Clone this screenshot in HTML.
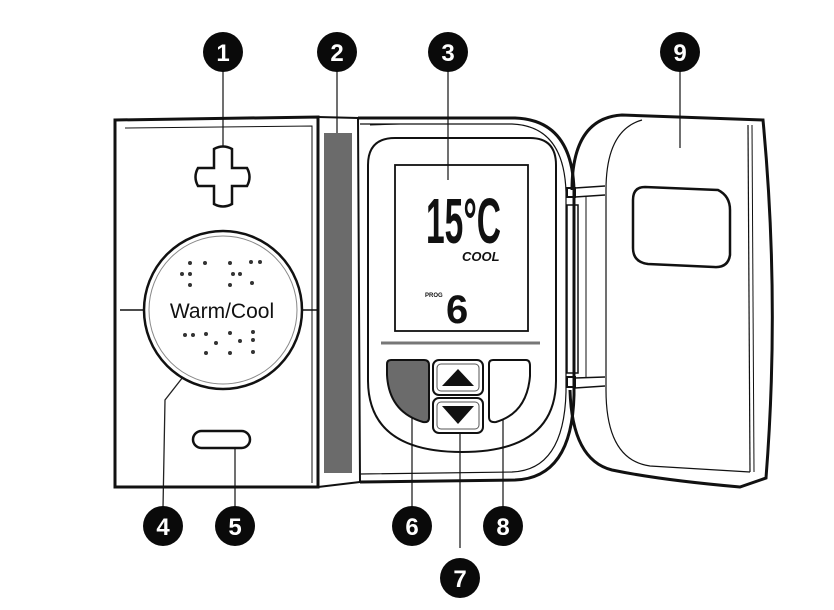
<!DOCTYPE html>
<html><head><meta charset="utf-8"><style>
html,body{margin:0;padding:0;background:#fff;}
svg{display:block;}
</style></head><body>
<svg width="834" height="610" viewBox="0 0 834 610" xmlns="http://www.w3.org/2000/svg" font-family="Liberation Sans, sans-serif">
<g stroke="#222" stroke-width="1.3" fill="none">
<line x1="223" y1="70" x2="223" y2="172"/>
<line x1="337" y1="70" x2="337" y2="150"/>
<line x1="448" y1="70" x2="448" y2="180"/>
<line x1="680" y1="70" x2="680" y2="148"/>
<polyline points="163,508 165,400 190,368"/>
<line x1="235" y1="508" x2="235" y2="440"/>
<line x1="412" y1="508" x2="412" y2="410"/>
<line x1="460" y1="548" x2="460" y2="432"/>
<line x1="503" y1="508" x2="503" y2="410"/>
</g>
<g fill="none" stroke="#111">
<path d="M115,120 L318,117 L318,487 L115,487 Z" stroke-width="3"/>
<path d="M125,128 L312,126 L312,483" stroke-width="1"/>
<path d="M318,117 L358,118 L360,482 L318,487" stroke-width="2"/>
<line x1="120" y1="310" x2="145" y2="310" stroke-width="1.5"/>
<line x1="302" y1="310" x2="318" y2="310" stroke-width="1.5"/>
</g>
<rect x="324" y="133" width="28" height="340" fill="#6b6b6b"/>
<path d="M214,149 Q223,144 232,149 L232,168 L247,168 Q252,177 247,186 L232,186 L232,204 Q223,209 214,204 L214,186 L198,186 Q193,177 198,168 L214,168 Z" fill="#fff" stroke="#111" stroke-width="2.5"/>
<circle cx="223" cy="310" r="79" fill="#fff" stroke="#111" stroke-width="2.5"/>
<circle cx="223" cy="310" r="74" fill="none" stroke="#888" stroke-width="1"/>
<text x="222" y="318" font-size="21" text-anchor="middle" fill="#111">Warm/Cool</text>
<g fill="#333">
<circle cx="190" cy="263" r="2"/><circle cx="205" cy="263" r="2"/><circle cx="230" cy="263" r="2"/><circle cx="251" cy="262" r="2"/><circle cx="260" cy="262" r="2"/>
<circle cx="182" cy="274" r="2"/><circle cx="190" cy="274" r="2"/><circle cx="233" cy="274" r="2"/><circle cx="240" cy="274" r="2"/>
<circle cx="190" cy="285" r="2"/><circle cx="230" cy="285" r="2"/><circle cx="252" cy="283" r="2"/>
<circle cx="185" cy="335" r="2"/><circle cx="193" cy="335" r="2"/><circle cx="206" cy="334" r="2"/><circle cx="230" cy="333" r="2"/><circle cx="253" cy="332" r="2"/>
<circle cx="216" cy="343" r="2"/><circle cx="240" cy="341" r="2"/><circle cx="253" cy="340" r="2"/>
<circle cx="206" cy="353" r="2"/><circle cx="230" cy="353" r="2"/><circle cx="253" cy="352" r="2"/>
</g>
<rect x="193" y="431" width="57" height="17" rx="8.5" fill="#fff" stroke="#111" stroke-width="2.5"/>
<g fill="none" stroke="#111">
<path d="M358,118 L515,118 Q572,120 574,190 L574,395 Q572,478 515,480 L360,482" stroke-width="3"/>
<path d="M360,124 L512,124 Q564,126 566,192 L566,392 Q564,470 512,472 L360,474" stroke-width="1.2"/>
<path d="M395,138 L530,138 Q556,138 556,165 L556,380 Q556,452 462,452 Q368,452 368,380 L368,165 Q368,138 395,138 Z" stroke-width="2"/>
<rect x="395" y="165" width="133" height="166" stroke-width="1.8"/>
<line x1="381" y1="343" x2="540" y2="343" stroke-width="3" stroke="#777"/>
<line x1="370" y1="125" x2="400" y2="124" stroke-width="1"/>
</g>
<text x="426" y="243" font-size="64" font-weight="bold" font-family="Liberation Sans Narrow, Liberation Sans, sans-serif" textLength="75" lengthAdjust="spacingAndGlyphs" fill="#111">15°C</text>
<text x="462" y="261" font-size="13" font-weight="bold" font-style="italic" fill="#111">COOL</text>
<text x="425" y="297" font-size="6" font-weight="bold" fill="#111">PROG</text>
<text x="446" y="323" font-size="40" font-weight="bold" font-family="Liberation Sans Narrow, Liberation Sans, sans-serif" fill="#111">6</text>
<path d="M391,360 L424,360 Q429,360 429,365 L429,418 Q429,423 423,422 Q389,412 387,375 L387,364 Q387,360 391,360 Z" fill="#6b6b6b" stroke="#111" stroke-width="2"/>
<rect x="433" y="360" width="50" height="35" rx="6" fill="#fff" stroke="#111" stroke-width="2"/>
<rect x="437" y="364" width="42" height="27" rx="4" fill="none" stroke="#555" stroke-width="1"/>
<path d="M442,386 L458,369 L474,386 Z" fill="#111"/>
<rect x="433" y="398" width="50" height="35" rx="6" fill="#fff" stroke="#111" stroke-width="2"/>
<rect x="437" y="402" width="42" height="27" rx="4" fill="none" stroke="#555" stroke-width="1"/>
<path d="M442,406 L474,406 L458,424 Z" fill="#111"/>
<path d="M493,360 L526,360 Q530,360 530,366 L530,376 Q527,413 496,422 Q489,423 489,417 L489,364 Q489,360 493,360 Z" fill="#fff" stroke="#111" stroke-width="2"/>
<g fill="none" stroke="#111">
<path d="M572,190 Q572,118 622,115 L763,120 Q780,300 766,478 L740,487 Q660,480 612,470 Q572,460 570,390" stroke-width="3"/>
<path d="M642,120 Q606,130 606,190 L606,390 Q606,460 650,466 L750,472" stroke-width="1.2"/>
<line x1="748" y1="125" x2="750" y2="472" stroke-width="1.2"/>
<line x1="752" y1="125" x2="754" y2="472" stroke-width="1"/>
<path d="M645,187 L718,190 Q730,196 730,210 L730,255 Q728,268 714,267 L648,264 Q633,262 633,248 L633,200 Q633,187 645,187 Z" stroke-width="2.5"/>
<rect x="567" y="188" width="8" height="9" stroke-width="2"/>
<rect x="567" y="377" width="8" height="10" stroke-width="2"/>
<path d="M575,188 L605,186 M575,197 L605,195 M575,378 L605,377 M575,388 L605,386" stroke-width="1.5"/>
<rect x="567" y="205" width="11" height="168" stroke-width="1.5"/>
<line x1="586" y1="197" x2="586" y2="378" stroke-width="1"/>
</g>
<g fill="#0a0a0a">
<circle cx="223" cy="52" r="20"/><circle cx="337" cy="52" r="20"/><circle cx="448" cy="52" r="20"/><circle cx="680" cy="52" r="20"/>
<circle cx="163" cy="526" r="20"/><circle cx="235" cy="526" r="20"/><circle cx="412" cy="526" r="20"/><circle cx="503" cy="526" r="20"/><circle cx="460" cy="578" r="20"/>
</g>
<g fill="#fff" font-size="24" font-weight="bold" text-anchor="middle">
<text x="223" y="61">1</text><text x="337" y="61">2</text><text x="448" y="61">3</text><text x="680" y="61">9</text>
<text x="163" y="535">4</text><text x="235" y="535">5</text><text x="412" y="535">6</text><text x="503" y="535">8</text><text x="460" y="587">7</text>
</g>
</svg>
</body></html>
